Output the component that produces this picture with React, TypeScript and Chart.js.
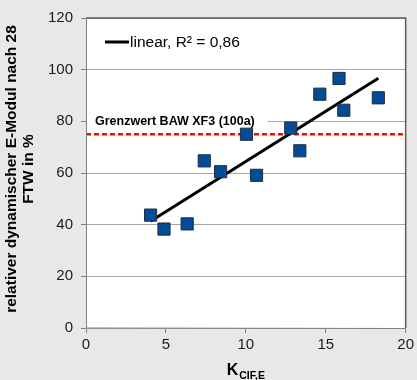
import React, { useEffect, useRef } from "react";
import { Chart, registerables } from "chart.js";

Chart.register(...registerables);

// Measured freeze-thaw results: K_CIF,E against relative dynamic modulus after 28 FTW
const kValues = [4.04, 4.88, 6.33, 7.4, 8.42, 10.04, 10.67, 12.81, 13.38, 14.63, 15.83, 16.13, 18.29];
const eModulValues = [43.7, 38.3, 40.3, 64.7, 60.5, 75.0, 59.1, 77.4, 68.6, 90.5, 96.6, 84.3, 89.1];

const limitValue = 75;
const limitLabel = "Grenzwert BAW XF3 (100a)";
const trendLabel = "linear, R² = 0,86";

const xRange = [0, 20];
const xStep = 5;
const yRange = [0, 120];
const yStep = 20;

const yTitleLines = ["relativer dynamischer E-Modul nach 28", "FTW in %"];
const xTitleMain = "K";
const xTitleSub = "CIF,E";

const FONT = "'Liberation Sans', Arial, sans-serif";

// least-squares line through the measurements, drawn over the data range
function linearFit(xs: number[], ys: number[]) {
  const n = xs.length;
  const mx = xs.reduce((a, b) => a + b, 0) / n;
  const my = ys.reduce((a, b) => a + b, 0) / n;
  let sxy = 0;
  let sxx = 0;
  for (let i = 0; i < n; i++) {
    sxy += (xs[i] - mx) * (ys[i] - my);
    sxx += (xs[i] - mx) * (xs[i] - mx);
  }
  const slope = sxy / sxx;
  const intercept = my - slope * mx;
  const x0 = Math.min(...xs);
  const x1 = Math.max(...xs);
  return [
    { x: x0, y: intercept + slope * x0 },
    { x: x1, y: intercept + slope * x1 },
  ];
}

const backgroundPlugin = {
  id: "panelBackground",
  beforeDraw(chart: any) {
    const { ctx, chartArea: a, width, height } = chart;
    ctx.save();
    ctx.fillStyle = "#e8e8e8";
    ctx.fillRect(0, 0, width, height);
    ctx.fillStyle = "#ffffff";
    ctx.fillRect(a.left, a.top, a.right - a.left, a.bottom - a.top);
    ctx.restore();
  },
};

const decorPlugin = {
  id: "decor",
  beforeDatasetsDraw(chart: any) {
    const { ctx, chartArea: a, scales } = chart;
    const yLim = scales.y.getPixelForValue(limitValue);
    ctx.save();
    // white plate behind the limit label
    ctx.fillStyle = "#ffffff";
    ctx.fillRect(a.left + 0.5, yLim - 23, 181, 19);
    ctx.fillStyle = "#000000";
    ctx.font = `bold 12.5px ${FONT}`;
    ctx.textAlign = "left";
    ctx.textBaseline = "middle";
    ctx.fillText(limitLabel, a.left + 9, yLim - 13);
    ctx.restore();
  },
  afterDatasetsDraw(chart: any) {
    const { ctx, chartArea: a } = chart;
    ctx.save();
    // frame around the plot area
    ctx.strokeStyle = "#5a5a5a";
    ctx.lineWidth = 1.5;
    ctx.beginPath();
    ctx.moveTo(a.left, a.top);
    ctx.lineTo(a.right, a.top);
    ctx.lineTo(a.right, a.bottom);
    ctx.stroke();
    ctx.strokeStyle = "#808080";
    ctx.lineWidth = 1;
    ctx.beginPath();
    ctx.moveTo(a.left + 0.5, a.top);
    ctx.lineTo(a.left + 0.5, a.bottom);
    ctx.lineTo(a.right, a.bottom + 0.5);
    ctx.stroke();

    // legend entry for the trend line
    const trend = chart.data.datasets[1];
    const ly = a.top + 24;
    ctx.strokeStyle = "#000000";
    ctx.lineWidth = 3;
    ctx.beginPath();
    ctx.moveTo(a.left + 19, ly);
    ctx.lineTo(a.left + 43, ly);
    ctx.stroke();
    ctx.fillStyle = "#000000";
    ctx.font = `15.5px ${FONT}`;
    ctx.textAlign = "left";
    ctx.textBaseline = "middle";
    ctx.fillText(trend.label, a.left + 44, ly + 1);

    // y axis title, two lines rotated
    ctx.font = `bold 15.5px ${FONT}`;
    ctx.textAlign = "center";
    const cy = (a.top + a.bottom) / 2 - 4;
    ctx.translate(0, cy);
    ctx.rotate(-Math.PI / 2);
    ctx.fillText(yTitleLines[0], 0, 12);
    ctx.fillText(yTitleLines[1], 0, 29);
    ctx.restore();

    // x axis title with subscript
    ctx.save();
    ctx.fillStyle = "#000000";
    ctx.textBaseline = "alphabetic";
    ctx.textAlign = "left";
    ctx.font = `bold 16px ${FONT}`;
    const wMain = ctx.measureText(xTitleMain).width;
    ctx.font = `bold 10.5px ${FONT}`;
    const wSub = ctx.measureText(xTitleSub).width;
    const total = wMain + 1 + wSub;
    const x0 = (a.left + a.right) / 2 - total / 2;
    ctx.font = `bold 16px ${FONT}`;
    ctx.fillText(xTitleMain, x0, 375);
    ctx.font = `bold 10.5px ${FONT}`;
    ctx.fillText(xTitleSub, x0 + wMain + 1, 378.5);
    ctx.restore();
  },
};

export default function App() {
  const canvasRef = useRef<HTMLCanvasElement | null>(null);

  useEffect(() => {
    const canvas = canvasRef.current;
    if (!canvas) return;
    const points = kValues.map((x, i) => ({ x, y: eModulValues[i] }));
    const chart = new Chart(canvas, {
      type: "scatter",
      data: {
        datasets: [
          {
            label: "Messwerte",
            data: points,
            pointStyle: "rect",
            pointRadius: 8.6,
            pointBorderWidth: 1,
            backgroundColor: "#034b96",
            borderColor: "#1b2d47",
            order: 0,
          },
          {
            label: trendLabel,
            type: "line",
            data: linearFit(kValues, eModulValues),
            borderColor: "#000000",
            borderWidth: 3,
            pointRadius: 0,
            fill: false,
            order: 1,
          },
          {
            label: limitLabel,
            type: "line",
            data: [
              { x: xRange[0], y: limitValue },
              { x: xRange[1], y: limitValue },
            ],
            borderColor: "#ff0000",
            borderWidth: 2.3,
            borderDash: [5, 3],
            pointRadius: 0,
            fill: false,
            order: 2,
          },
        ],
      },
      options: {
        responsive: false,
        animation: false,
        layout: { padding: { top: 18, right: 9, left: 0, bottom: 0 } },
        plugins: {
          legend: { display: false },
          tooltip: { enabled: false },
        },
        scales: {
          x: {
            type: "linear",
            min: xRange[0],
            max: xRange[1],
            ticks: {
              stepSize: xStep,
              color: "#1a1a1a",
              font: { family: FONT, size: 15 },
              padding: 3,
              maxRotation: 0,
            },
            grid: {
              drawOnChartArea: false,
              drawTicks: true,
              tickLength: 5,
              tickColor: "#808080",
            },
            border: { display: false },
            afterFit(scale: any) {
              scale.height = 52;
            },
          },
          y: {
            type: "linear",
            min: yRange[0],
            max: yRange[1],
            ticks: {
              stepSize: yStep,
              color: "#1a1a1a",
              font: { family: FONT, size: 15 },
              padding: 8,
            },
            grid: {
              color: "#a6a6a6",
              tickColor: "#808080",
              tickLength: 5,
              lineWidth: 1,
            },
            border: { display: false },
            afterFit(scale: any) {
              scale.width = 86;
            },
          },
        },
      },
      plugins: [backgroundPlugin, decorPlugin],
    });
    return () => chart.destroy();
  }, []);

  return (
    <div style={{ position: "fixed", left: 0, top: 0, width: 417, height: 380 }}>
      <canvas ref={canvasRef} width={417} height={380} style={{ width: 417, height: 380, display: "block" }} />
    </div>
  );
}
